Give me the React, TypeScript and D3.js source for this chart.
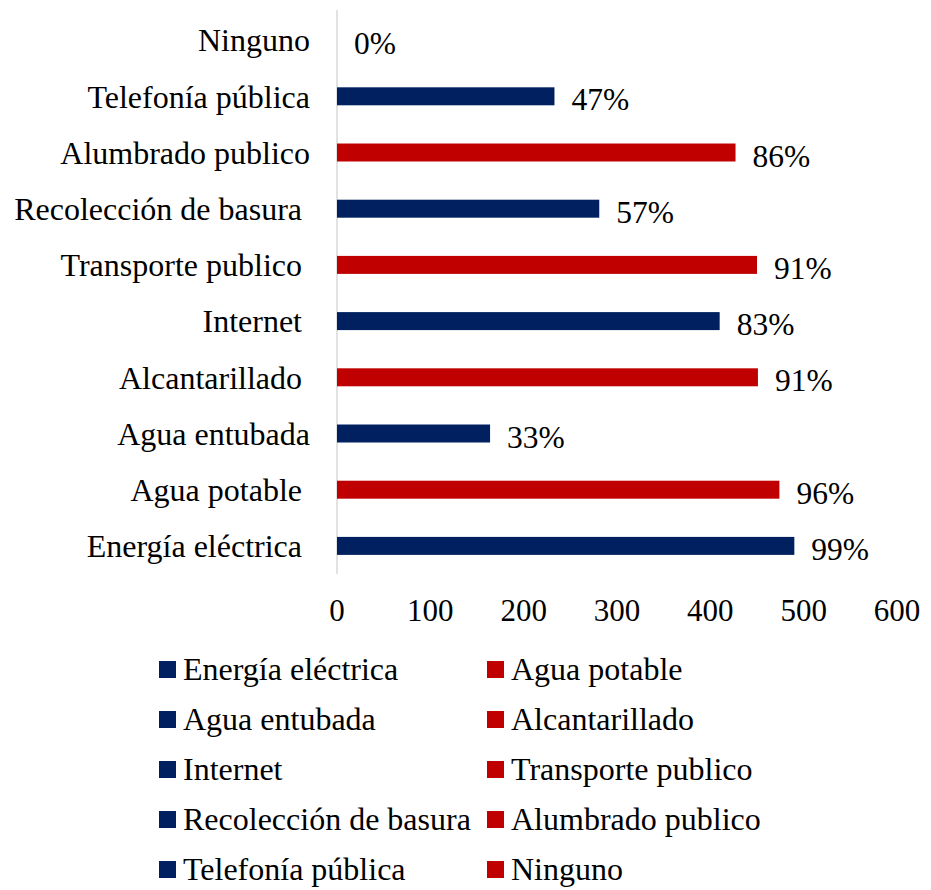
import React, { useEffect } from "react";
import * as d3 from "d3";

// Categories from bottom (first) to top (last) as in the source
const categories = [
  "Energía eléctrica ",
  "Agua potable ",
  "Agua entubada",
  "Alcantarillado ",
  "Internet ",
  "Transporte publico ",
  "Recolección de basura ",
  "Alumbrado publico",
  "Telefonía pública",
  "Ninguno",
];
const values = [490, 474, 164, 451, 410, 450, 281, 427, 233, 0];
const percentLabels = ["99%", "96%", "33%", "91%", "83%", "91%", "57%", "86%", "47%", "0%"];
const seriesColors = ["#002060", "#C00000"];
const xTicks = [0, 100, 200, 300, 400, 500, 600];

const W = 931;
const H = 890;
const FONT = "'Liberation Serif', 'Times New Roman', Times, serif";

export default function App() {
  useEffect(() => {
    document.body.style.margin = "0";
  }, []);

  const x = d3.scaleLinear().domain([0, 600]).range([337, 897]);
  const topDown = [...categories].reverse();
  const y = d3
    .scaleBand<string>()
    .domain(topDown)
    .range([12, 574])
    .paddingInner(0.68)
    .paddingOuter(0.34);
  const bw = y.bandwidth();
  const colorOf = (i: number) => seriesColors[i % 2];

  const legendRows = d3.range(Math.ceil(categories.length / 2));
  const legendRowY = d3.scaleLinear().domain([0, 4]).range([669, 869]);
  const legendColX = [159, 487];

  return (
    <svg width={W} height={H} style={{ display: "block", background: "#fff" }} fontFamily={FONT}>
      {/* axis line */}
      <line x1={x(0)} x2={x(0)} y1={10} y2={574} stroke="#d9d9d9" strokeWidth={1.5} />
      {categories.map((c, i) => {
        const yc = (y(c) as number) + bw / 2;
        return (
          <g key={c}>
            <rect x={x(0)} y={y(c)} width={x(values[i]) - x(0)} height={bw} fill={colorOf(i)} />
            <text
              x={310}
              y={yc}
              dy="0.35em"
              textAnchor="end"
              fontSize={32}
              fill="#000"
              style={{ whiteSpace: "pre" }}
            >
              {c}
            </text>
            <text x={x(values[i]) + 17} y={yc + 3} dy="0.35em" fontSize={31.5} fill="#000">
              {percentLabels[i]}
            </text>
          </g>
        );
      })}
      {xTicks.map((t) => (
        <text key={t} x={x(t)} y={610} dy="0.35em" textAnchor="middle" fontSize={31} fill="#000">
          {t}
        </text>
      ))}
      {legendRows.map((r) =>
        [0, 1].map((cIdx) => {
          const i = r * 2 + cIdx;
          if (i >= categories.length) return null;
          const ly = legendRowY(r);
          return (
            <g key={i}>
              <rect x={legendColX[cIdx]} y={ly - 8} width={17} height={17} fill={colorOf(i)} />
              <text x={legendColX[cIdx] + 24} y={ly} dy="0.35em" fontSize={32} fill="#000">
                {categories[i].trim()}
              </text>
            </g>
          );
        })
      )}
    </svg>
  );
}
